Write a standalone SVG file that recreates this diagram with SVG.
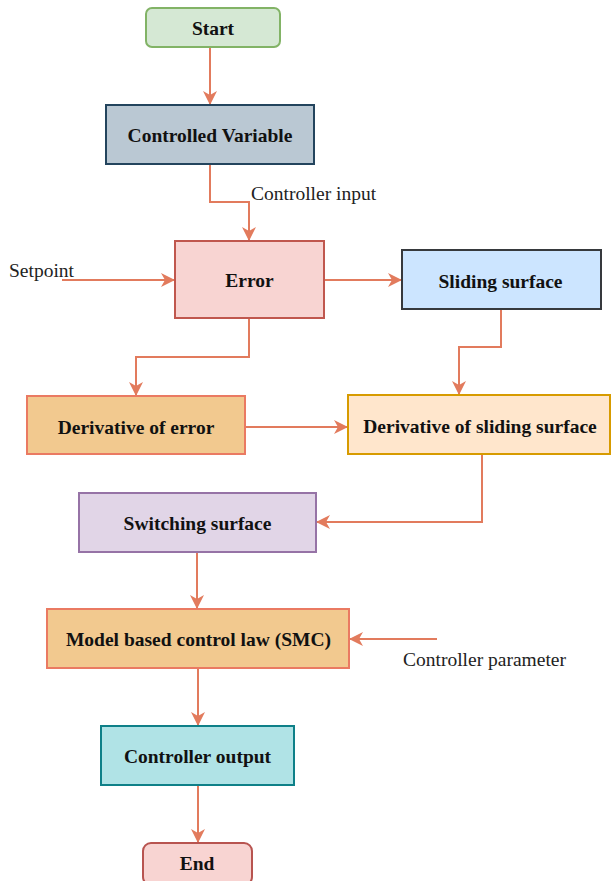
<svg xmlns="http://www.w3.org/2000/svg" width="611" height="881" viewBox="0 0 611 881">
  <style>
    .box { stroke-width: 2; }
    .lbl { font-family: "Liberation Serif", "Times New Roman", serif; font-size: 19.5px; font-weight: bold; fill: #111; text-anchor: middle; }
    .note { font-family: "Liberation Serif", "Times New Roman", serif; font-size: 19.5px; fill: #222; }
    .wire { fill: none; stroke: #e27b5d; stroke-width: 2; marker-end: url(#arrow); }
  </style>
  <defs>
    <marker id="arrow" viewBox="0 0 14 14" refX="14" refY="7" markerWidth="14" markerHeight="14" markerUnits="userSpaceOnUse" orient="auto">
      <path d="M0,0 L14,7 L0,14 L4,7 z" fill="#e27b5d"/>
    </marker>
  </defs>
  <rect width="611" height="881" fill="#ffffff"/>

  <g id="connectors">
    <path class="wire" d="M210,47 V105"/>
    <path class="wire" d="M210,164 V202 H249 V241"/>
    <path class="wire" d="M62,280 H175"/>
    <path class="wire" d="M324,280 H402"/>
    <path class="wire" d="M249,318 V357 H136 V396"/>
    <path class="wire" d="M501,309 V347 H459 V395"/>
    <path class="wire" d="M245,427 H348"/>
    <path class="wire" d="M482,454 V522 H316"/>
    <path class="wire" d="M197,552 V609"/>
    <path class="wire" d="M437,639 H349"/>
    <path class="wire" d="M198,668 V726"/>
    <path class="wire" d="M198,785 V843"/>
  </g>

  <g id="labels">
    <text class="note" x="251" y="200">Controller input</text>
    <text class="note" x="9" y="277">Setpoint</text>
    <text class="note" x="403" y="666">Controller parameter</text>
  </g>

  <g id="start">
    <rect class="box" x="146" y="8" width="134" height="39" rx="6" fill="#d5e8d4" stroke="#82b366"/>
    <text class="lbl" x="213" y="34.5">Start</text>
  </g>
  <g id="controlled-variable">
    <rect class="box" x="106" y="105" width="208" height="59" fill="#bac8d3" stroke="#23445d"/>
    <text class="lbl" x="210" y="141.5">Controlled Variable</text>
  </g>
  <g id="error">
    <rect class="box" x="175" y="241" width="149" height="77" fill="#f8d4d2" stroke="#c0574e"/>
    <text class="lbl" x="249.5" y="287">Error</text>
  </g>
  <g id="sliding-surface">
    <rect class="box" x="402" y="250" width="199" height="59" fill="#cce5ff" stroke="#36393d"/>
    <text class="lbl" x="500.5" y="287.5">Sliding surface</text>
  </g>
  <g id="derivative-error">
    <rect class="box" x="27" y="396" width="218" height="58" fill="#f2c98f" stroke="#ea7a62"/>
    <text class="lbl" x="136" y="433.5">Derivative of error</text>
  </g>
  <g id="derivative-sliding">
    <rect class="box" x="348" y="395" width="262" height="59" fill="#ffe6cc" stroke="#d79b00"/>
    <text class="lbl" x="480" y="433">Derivative of sliding surface</text>
  </g>
  <g id="switching-surface">
    <rect class="box" x="79" y="493" width="237" height="59" fill="#e1d5e7" stroke="#9673a6"/>
    <text class="lbl" x="197.5" y="529.5">Switching surface</text>
  </g>
  <g id="control-law">
    <rect class="box" x="47" y="609" width="302" height="59" fill="#f2c98f" stroke="#ea7a62"/>
    <text class="lbl" x="198.5" y="645.5">Model based control law (SMC)</text>
  </g>
  <g id="controller-output">
    <rect class="box" x="101" y="726" width="193" height="59" fill="#b0e3e6" stroke="#0e8088"/>
    <text class="lbl" x="197.5" y="762.5">Controller output</text>
  </g>
  <g id="end">
    <rect class="box" x="143" y="843" width="109" height="42" rx="8" fill="#f8d4d2" stroke="#b85450"/>
    <text class="lbl" x="197" y="869.5">End</text>
  </g>
</svg>
